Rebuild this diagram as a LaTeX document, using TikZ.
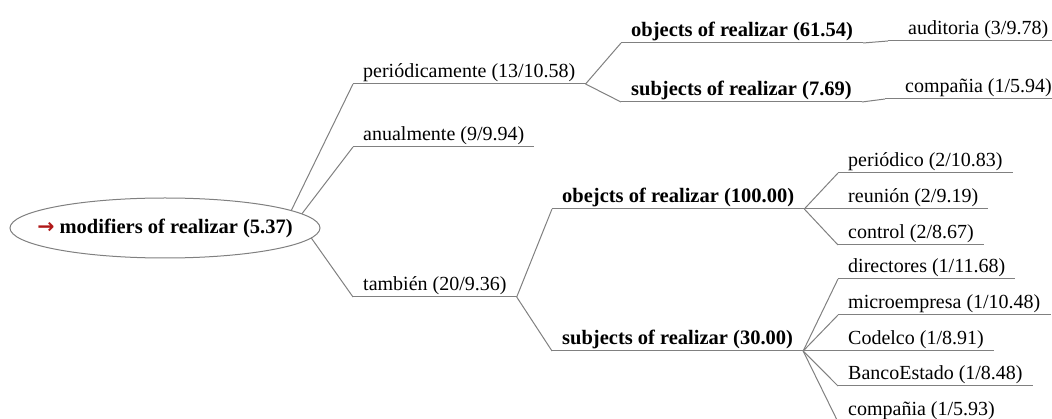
\documentclass[tikz,border=0pt]{standalone}
\usepackage{fontspec}
\setmainfont{Liberation Serif}
\newfontfamily\arrowfont{DejaVu Sans}
\usetikzlibrary{shapes.geometric}
\definecolor{arrowred}{RGB}{176,24,24}
\definecolor{linegray}{RGB}{128,128,128}
\tikzset{
  conn/.style={draw=linegray,line width=1pt},
  lbl/.style={anchor=south west,inner xsep=10pt,inner ysep=0pt,
    text height=14pt,text depth=6pt,font=\fontsize{20}{24}\selectfont},
  rel/.style={lbl,font=\fontsize{20.5}{24}\selectfont\bfseries},
  leaf/.style={lbl,inner xsep=20pt},
}
\begin{document}
\begin{tikzpicture}[x=1pt,y=-1pt]
 \useasboundingbox (0,0) rectangle (1052,419);
 \clip (0,0) rectangle (1052,419);
 % root
 \node[ellipse,draw=linegray,line width=1pt,fill=white,inner sep=0pt,
   minimum width=310pt,minimum height=60pt,
   font=\fontsize{20.5}{24}\selectfont\bfseries] (mod) at (165,228)
   {\makebox[0pt]{\textcolor{arrowred}{\arrowfont\bfseries →} modifiers of realizar (5.37)}};
 % first level
 \node[lbl] (per) at (353,84) {periódicamente (13/10.58)};
 \node[lbl] (anu) at (353,147) {anualmente (9/9.94)};
 \node[lbl] (tam) at (353,297) {también (20/9.36)};
 % relations
 \node[rel] (obj1) at (621,43) {objects of realizar (61.54)};
 \node[rel] (sub1) at (621,102) {subjects of realizar (7.69)};
 \node[rel] (obj2) at (552,209) {obejcts of realizar (100.00)};
 \node[rel] (sub2) at (552,351) {subjects of realizar (30.00)};
 % words
 \node[leaf] (aud) at (888,41) {auditoria (3/9.78)};
 \node[leaf] (comA) at (885,99) {compañia (1/5.94)};
 \node[lbl] (pdc) at (838,173) {periódico (2/10.83)};
 \node[lbl] (reu) at (838,209) {reunión (2/9.19)};
 \node[lbl] (ctl) at (838,245) {control (2/8.67)};
 \node[lbl] (dir) at (838,279) {directores (1/11.68)};
 \node[lbl] (mic) at (838,315) {microempresa (1/10.48)};
 \node[lbl] (cod) at (838,351) {Codelco (1/8.91)};
 \node[lbl] (ban) at (838,386) {BancoEstado (1/8.48)};
 \node[lbl] (comB) at (838,422) {compañia (1/5.93)};
 % underlines
 \foreach \n in {per,anu,tam,obj1,sub1,obj2,sub2,aud,comA,pdc,reu,ctl,dir,mic,cod,ban,comB}
   \draw[conn] (\n.south west) -- (\n.south east);
 % branches
 \draw[conn] (mod.8) -- (per.south west);
 \draw[conn] (mod.6) -- (anu.south west);
 \draw[conn] (mod.-4) -- (tam.south west);
 \foreach \n in {obj1,sub1} \draw[conn] (per.south east) -- (\n.south west);
 \draw[conn] (obj1.south east) -- (aud.south west);
 \draw[conn] (sub1.south east) -- (comA.south west);
 \foreach \n in {obj2,sub2} \draw[conn] (tam.south east) -- (\n.south west);
 \foreach \n in {pdc,reu,ctl} \draw[conn] (obj2.south east) -- (\n.south west);
 \foreach \n in {dir,mic,cod,ban,comB} \draw[conn] (sub2.south east) -- (\n.south west);
\end{tikzpicture}
\end{document}
